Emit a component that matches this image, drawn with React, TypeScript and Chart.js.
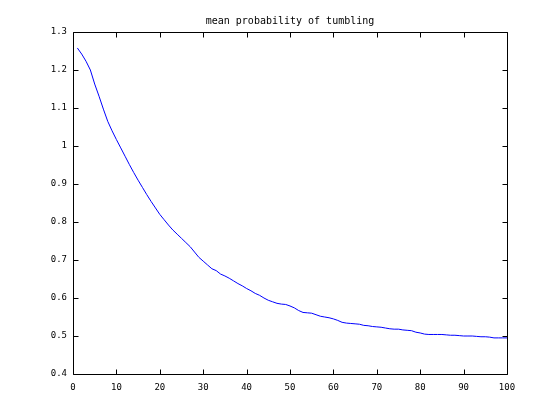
import React, { useEffect, useRef } from "react";
import { Chart, registerables } from "chart.js";

Chart.register(...registerables);

const titleText = "mean probability of tumbling";
const xValues: number[] = Array.from({ length: 100 }, (_, i) => i + 1);
const meanProb: number[] = [
  1.258, 1.242, 1.223, 1.2, 1.163, 1.131, 1.097, 1.065, 1.04, 1.017,
  0.995, 0.973, 0.951, 0.93, 0.91, 0.891, 0.872, 0.854, 0.837, 0.82,
  0.806, 0.792, 0.779, 0.768, 0.757, 0.746, 0.735, 0.721, 0.707, 0.697,
  0.687, 0.677, 0.672, 0.663, 0.658, 0.652, 0.645, 0.638, 0.632, 0.625,
  0.619, 0.612, 0.607, 0.6, 0.594, 0.59, 0.586, 0.584, 0.583, 0.579,
  0.574, 0.567, 0.562, 0.561, 0.56, 0.556, 0.552, 0.55, 0.548, 0.545,
  0.541, 0.536, 0.534, 0.533, 0.532, 0.531, 0.528, 0.527, 0.525, 0.524,
  0.523, 0.521, 0.519, 0.518, 0.518, 0.516, 0.515, 0.514, 0.51, 0.508,
  0.505, 0.504, 0.504, 0.504, 0.504, 0.503, 0.502, 0.502, 0.501, 0.5,
  0.5, 0.5, 0.499, 0.498, 0.498, 0.497, 0.495, 0.495, 0.495, 0.495,
];
const xMin = 0, xMax = 100, xStep = 10;
const yMin = 0.4, yMax = 1.3, yStep = 0.1;

const TICK_FONT = "'DejaVu Sans Mono', monospace";
const TITLE_FONT = "'DejaVu Sans Mono', monospace";

const boxPlugin = {
  id: "matlabBox",
  afterDraw(chart: any) {
    const { ctx, chartArea: a, scales } = chart;
    ctx.save();
    ctx.strokeStyle = "#000";
    ctx.lineWidth = 1;
    const L = Math.round(a.left) + 0.5, R = Math.round(a.right) + 0.5;
    const T = Math.round(a.top) + 0.5, B = Math.round(a.bottom) + 0.5;
    ctx.beginPath();
    ctx.rect(L, T, R - L, B - T);
    const tl = 5;
    scales.x.ticks.forEach((t: any) => {
      const px = Math.round(scales.x.getPixelForValue(t.value)) + 0.5;
      ctx.moveTo(px, B); ctx.lineTo(px, B - tl);
      ctx.moveTo(px, T); ctx.lineTo(px, T + tl);
    });
    scales.y.ticks.forEach((t: any) => {
      const py = Math.round(scales.y.getPixelForValue(t.value)) + 0.5;
      ctx.moveTo(L, py); ctx.lineTo(L + tl, py);
      ctx.moveTo(R, py); ctx.lineTo(R - tl, py);
    });
    ctx.stroke();
    ctx.fillStyle = "#000";
    ctx.font = `10px ${TITLE_FONT}`;
    ctx.textAlign = "center";
    ctx.textBaseline = "alphabetic";
    ctx.fillText(titleText, (a.left + a.right) / 2, 24);
    ctx.restore();
  },
};

export default function App() {
  const ref = useRef<HTMLCanvasElement>(null);
  useEffect(() => {
    document.body.style.margin = "0";
    const chart = new Chart(ref.current!, {
      type: "line",
      data: {
        labels: xValues,
        datasets: [
          {
            data: xValues.map((x, i) => ({ x, y: meanProb[i] })),
            borderColor: "#0000ff",
            borderWidth: 1,
            pointRadius: 0,
            tension: 0,
            fill: false,
          },
        ],
      },
      options: {
        animation: false,
        responsive: false,
        maintainAspectRatio: false,
        layout: { padding: { left: 0, right: 53, top: 32, bottom: 0 } },
        plugins: { legend: { display: false }, tooltip: { enabled: false }, title: { display: false } },
        scales: {
          x: {
            type: "linear",
            min: xMin,
            max: xMax,
            grid: { display: false, drawTicks: false },
            border: { display: false },
            ticks: {
              stepSize: xStep,
              color: "#000",
              font: { family: TICK_FONT, size: 9 },
              padding: 8,
              maxRotation: 0,
            },
            afterFit: (s: any) => { s.height = 46; },
          },
          y: {
            type: "linear",
            min: yMin,
            max: yMax,
            grid: { display: false, drawTicks: false },
            border: { display: false },
            ticks: {
              stepSize: yStep,
              color: "#000",
              font: { family: TICK_FONT, size: 9 },
              padding: 6,
              callback: (v: any) => String(Number(Number(v).toFixed(1))),
            },
            afterFit: (s: any) => { s.width = 73; },
          },
        },
      },
      plugins: [boxPlugin],
    });
    return () => chart.destroy();
  }, []);
  return (
    <div style={{ width: 560, height: 420, background: "#fff" }}>
      <canvas ref={ref} width={560} height={420} style={{ display: "block" }} />
    </div>
  );
}
